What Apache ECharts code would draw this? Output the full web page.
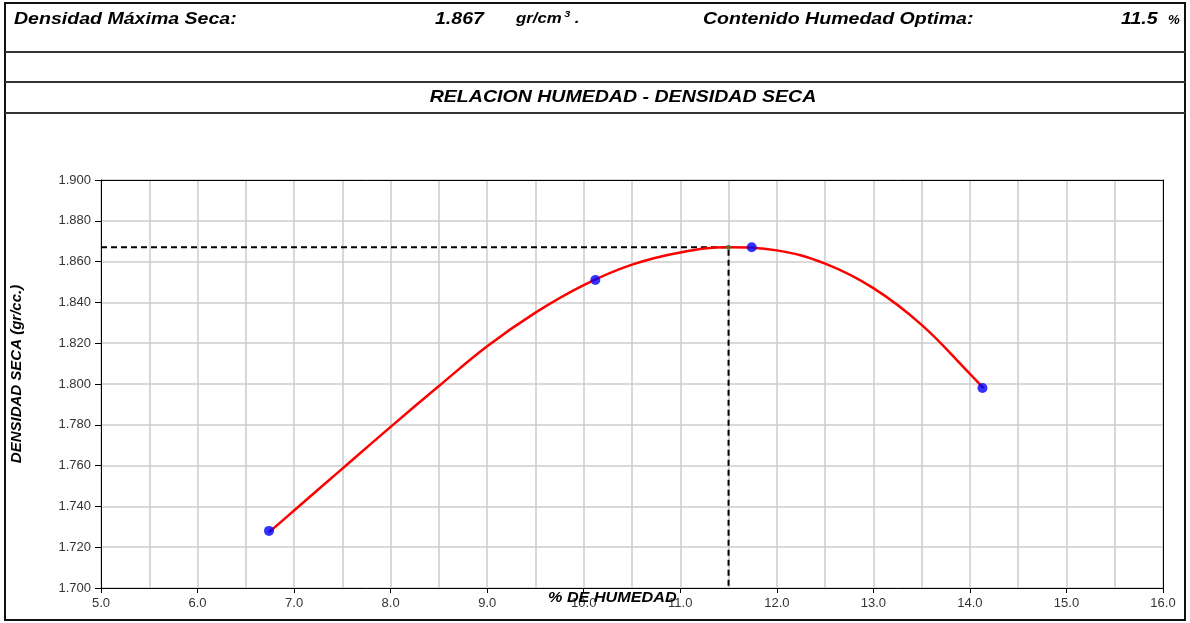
<!DOCTYPE html>
<html>
<head>
<meta charset="utf-8">
<script src="https://cdn.jsdelivr.net/npm/echarts@6/dist/echarts.min.js"></script>
<style>
html,body{margin:0;padding:0;background:#fff;}
#chart{width:1190px;height:623px;}
</style>
</head>
<body>
<div id="chart"></div>
<script>
// ---- data ----
const curveX = [6.74, 7.0, 7.5, 8.0, 8.5, 9.0, 9.5, 10.0, 10.5, 11.0, 11.5, 12.0, 12.5, 13.0, 13.5, 14.0, 14.14];
const curveY = [1.7273, 1.738, 1.7585, 1.779, 1.799, 1.8185, 1.835, 1.8485, 1.8585, 1.8645, 1.867, 1.8655, 1.859, 1.847, 1.829, 1.805, 1.798];
const pointX = [6.74, 10.12, 11.74, 14.13];
const pointY = [1.728, 1.851, 1.867, 1.798];
const optimoHumedad = 11.5;
const densidadMax = 1.867;
const xTicks = [5, 16, 1];      // min, max, interval
const yTicks = [1.7, 1.9, 0.02];

const FONT = '"Liberation Sans", Arial, sans-serif';
const chart = echarts.init(document.getElementById('chart'), null, {renderer: 'canvas'});

const curveData = curveX.map((x, i) => [x, curveY[i]]);
const pointData = pointX.map((x, i) => [x, pointY[i]]);
const guideData = [[xTicks[0], densidadMax], [optimoHumedad, densidadMax], [optimoHumedad, yTicks[0]]];

function t(text, x, y, size, sx, extra) {
  return {
    type: 'text', x: x, y: y, scaleX: sx, z: 10,
    style: Object.assign({text: text, fontFamily: FONT, fontWeight: 'bold', fontStyle: 'italic',
      fontSize: size, fill: '#000', verticalAlign: 'middle'}, extra || {})
  };
}

const lineAxis = {show: true, lineStyle: {color: '#000', width: 1}};

chart.setOption({
  animation: false,
  backgroundColor: '#fff',
  grid: {left: 101, top: 180, right: 27, bottom: 35, show: false, containLabel: false, outerBoundsMode: 'none'},
  xAxis: [{
    type: 'value', min: xTicks[0], max: xTicks[1], interval: xTicks[2],
    axisLine: lineAxis,
    axisTick: {show: true, length: 5, lineStyle: {color: '#000'}},
    axisLabel: {fontFamily: FONT, fontSize: 13, color: '#333', margin: 9, formatter: v => v.toFixed(1)},
    splitLine: {show: true, lineStyle: {color: '#cccccc', width: 1.5}},
    minorTick: {show: false, splitNumber: 2},
    minorSplitLine: {show: true, lineStyle: {color: '#cccccc', width: 1.5}}
  }, {
    type: 'value', position: 'top', min: xTicks[0], max: xTicks[1], interval: xTicks[2],
    axisLine: lineAxis, axisTick: {show: false}, axisLabel: {show: false}, splitLine: {show: false}
  }],
  yAxis: [{
    type: 'value', min: yTicks[0], max: yTicks[1], interval: yTicks[2],
    name: 'DENSIDAD SECA (gr/cc.)', nameLocation: 'middle', nameGap: 77, nameRotate: 90,
    nameTextStyle: {fontFamily: FONT, fontWeight: 'bold', fontStyle: 'italic', fontSize: 15, color: '#000', padding: [0, 0, 0, 20]},
    axisLine: lineAxis,
    axisTick: {show: true, length: 6, lineStyle: {color: '#000'}},
    axisLabel: {fontFamily: FONT, fontSize: 13, color: '#333', margin: 10, formatter: v => v.toFixed(3)},
    splitLine: {show: true, lineStyle: {color: '#cccccc', width: 1.5}}
  }, {
    type: 'value', position: 'right', min: yTicks[0], max: yTicks[1], interval: yTicks[2],
    axisLine: lineAxis, axisTick: {show: false}, axisLabel: {show: false}, splitLine: {show: false}
  }],
  series: [
    {type: 'line', data: guideData, symbol: 'none', silent: true, z: 3,
     lineStyle: {color: '#000', width: 2, type: [6, 4]}},
    {type: 'line', data: curveData, smooth: 0.4, symbol: 'none', z: 4,
     lineStyle: {color: '#ff0000', width: 2.5}},
    {type: 'scatter', data: pointData, symbol: 'circle', symbolSize: 10, z: 5,
     itemStyle: {color: '#0000ff'}},
    {type: 'scatter', data: [[optimoHumedad, densidadMax]], symbol: 'circle', symbolSize: 5, z: 6,
     itemStyle: {color: '#4f6b2a'}}
  ],
  graphic: [
    {type: 'rect', shape: {x: 5, y: 3, width: 1180, height: 617}, style: {fill: 'none', stroke: '#111', lineWidth: 2}, z: 10},
    {type: 'line', shape: {x1: 5, y1: 52, x2: 1185, y2: 52}, style: {stroke: '#333', lineWidth: 2}, z: 10},
    {type: 'line', shape: {x1: 5, y1: 82, x2: 1185, y2: 82}, style: {stroke: '#333', lineWidth: 2}, z: 10},
    {type: 'line', shape: {x1: 5, y1: 113, x2: 1185, y2: 113}, style: {stroke: '#333', lineWidth: 2}, z: 10},
    t('Densidad Máxima Seca:', 14, 19, 17, 1.15),
    t('1.867', 435, 19, 17, 1.15),
    t('{a|gr/cm}{s|3}{a| .}', 516, 19, 14, 1.2, {rich: {
        a: {fontFamily: FONT, fontWeight: 'bold', fontStyle: 'italic', fontSize: 14},
        s: {fontFamily: FONT, fontWeight: 'bold', fontStyle: 'italic', fontSize: 9, padding: [0, 0, 9, 2]}
      }}),
    t('Contenido Humedad Optima:', 703, 19, 17, 1.15),
    t('11.5', 1121, 19, 17, 1.15),
    t('%', 1168, 21, 12, 1.1),
    t('RELACION HUMEDAD - DENSIDAD SECA', 623, 97, 17, 1.15, {align: 'center'}),
    t('% DE HUMEDAD', 548, 598, 15, 1.08)
  ]
});
</script>
</body>
</html>
